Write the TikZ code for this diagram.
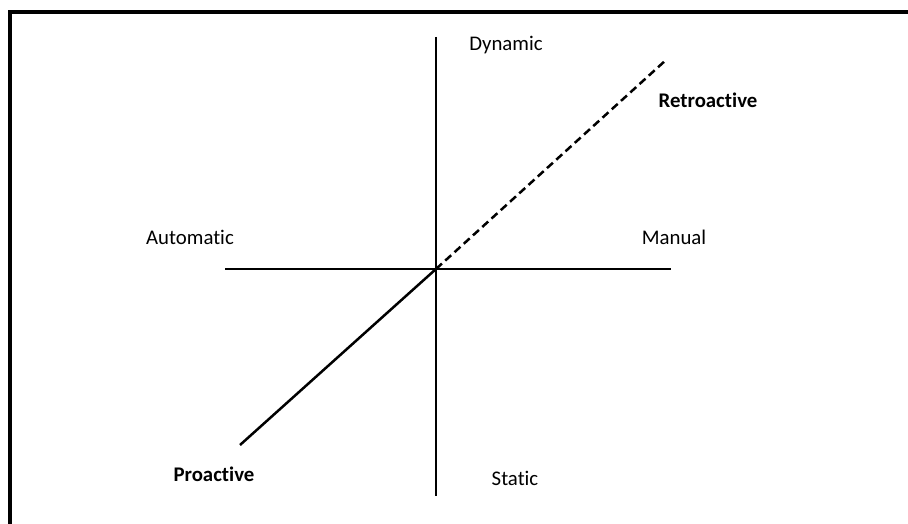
\documentclass[tikz,border=0pt]{standalone}
\usepackage{fontspec}
\setmainfont[Ligatures={NoCommon}]{Carlito}
\usepackage{tikz}
\usetikzlibrary{positioning, calc}

\begin{document}
\begin{tikzpicture}[
    x=1pt, y=-1pt,
    label/.style={inner sep=0pt, font=\fontsize{20.8}{24}\selectfont},
    boldlabel/.style={label, font=\fontsize{20.8}{24}\selectfont\bfseries},
    axis/.style={line width=2.8pt},
    frame/.style={line width=4pt}
]
\useasboundingbox (0,0) rectangle (908,524);

% Frame (top and left edges)
\coordinate (fb) at (10,526);
\coordinate (fc) at (10,12);
\coordinate (fr) at (910,12);
\draw[frame] (fb) -- (fc) -- (fr);

% Axis end points
\coordinate (o) at (436,269);
\coordinate (top) at (436,37);
\coordinate (bottom) at (436,496);
\coordinate (left) at (225,269);
\coordinate (right) at (671,269);
\coordinate (pro) at (240,445);
\coordinate (retro) at (666,60);

% Labels
\node[label] (dyn) at (506,45) {Dynamic};
\node[label] (sta) at (515,478) {Static};
\node[label] (aut) at (190,237) {Automatic};
\node[label] (man) at (674,237) {Manual};
\node[boldlabel] (ret) at (708,100) {Retroactive};
\node[boldlabel] (proa) at (214,474) {Proactive};

% Axes
\draw[axis] (top) -- (bottom);
\draw[axis] (left) -- (right);
\draw[axis, line width=2.5pt] (pro) -- (o);
\draw[axis, line width=2.5pt, dash pattern=on 8pt off 4.5pt] (o) -- (retro);

\end{tikzpicture}
\end{document}
